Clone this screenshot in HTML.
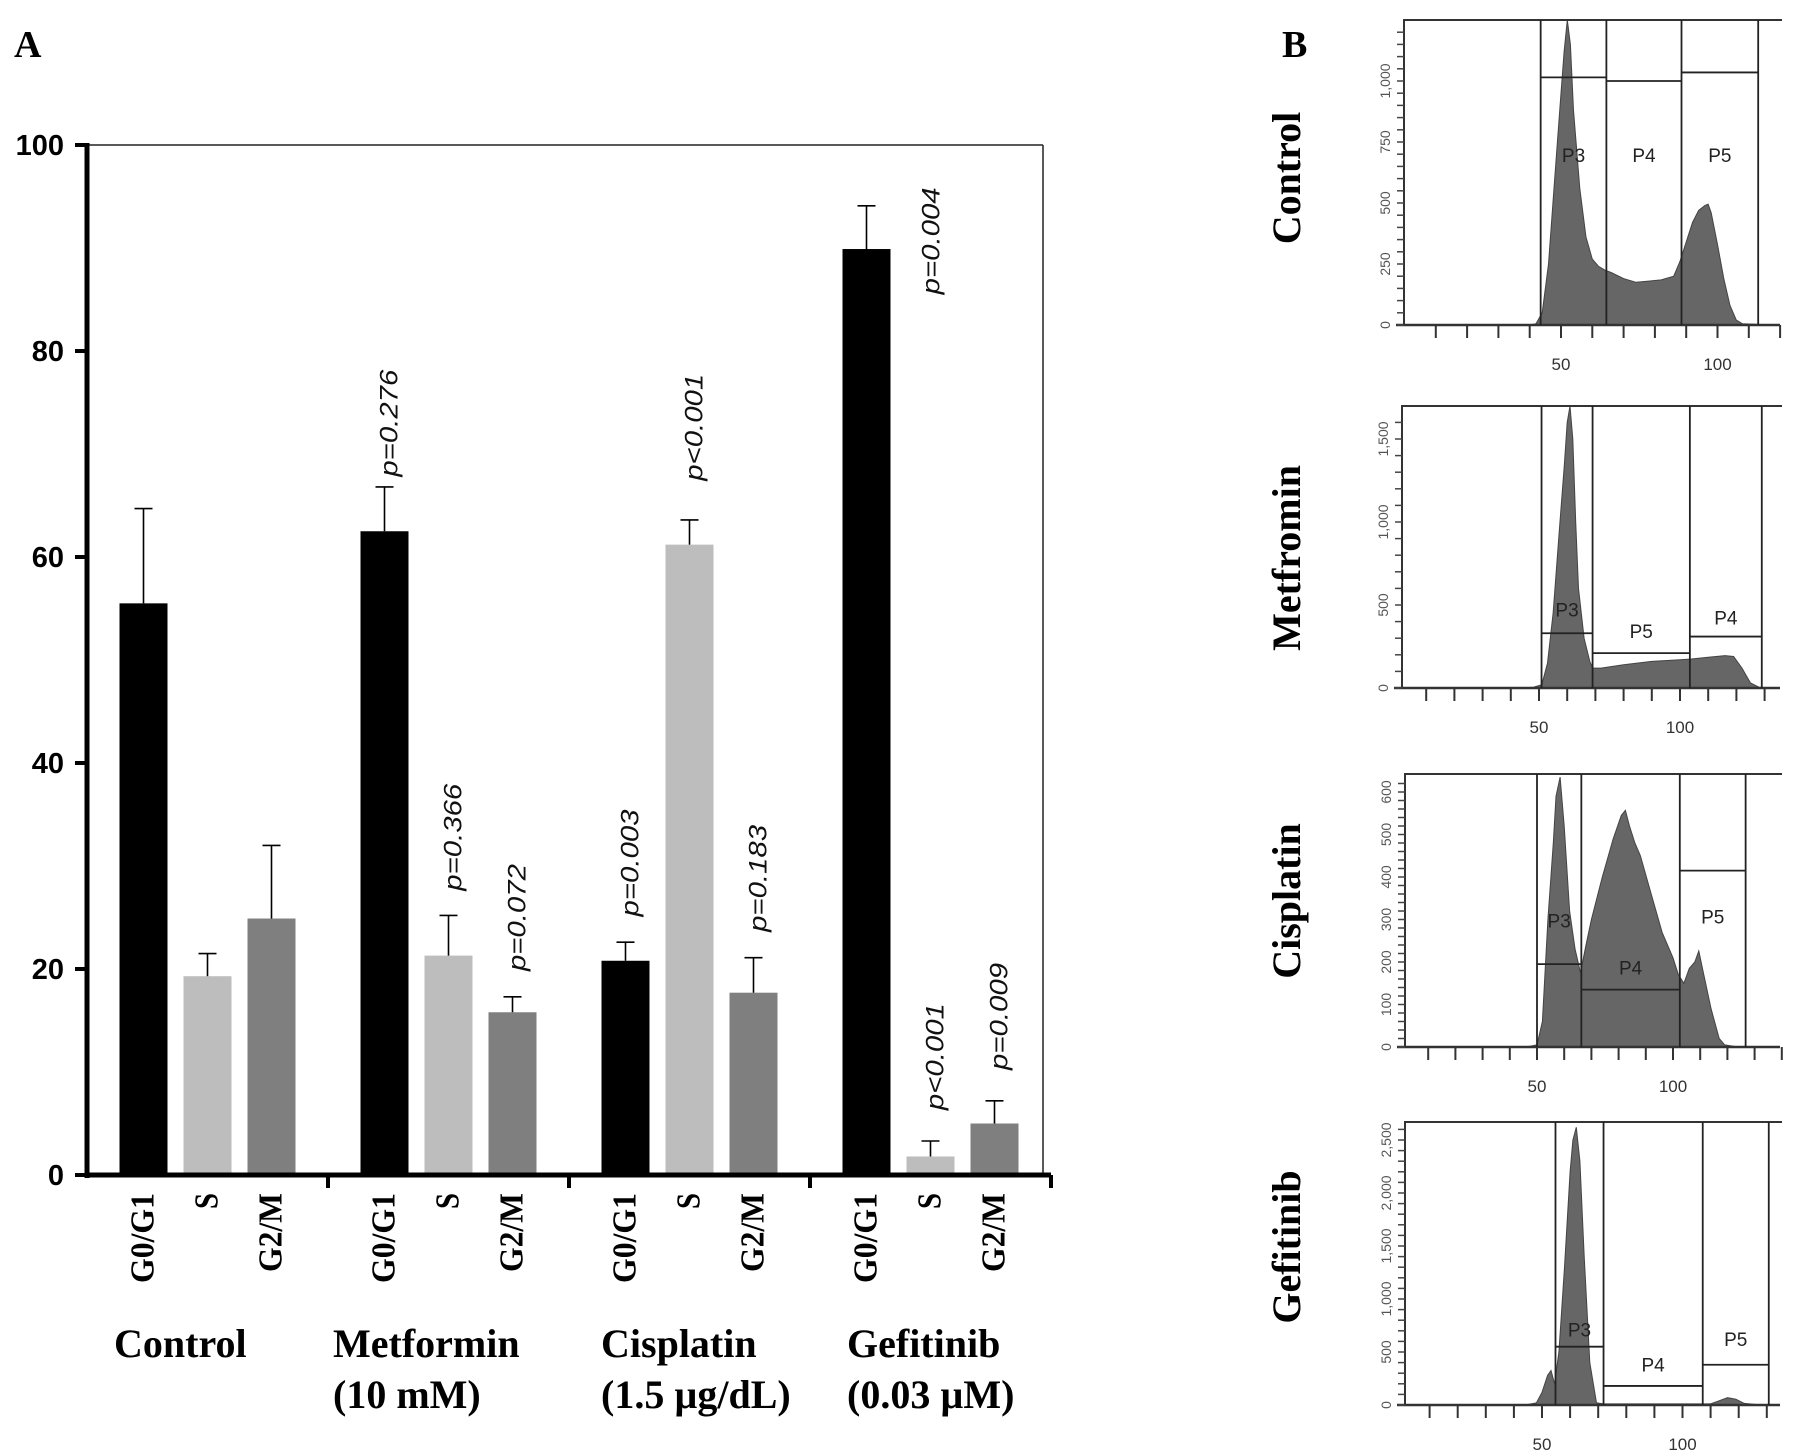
<!DOCTYPE html>
<html><head><meta charset="utf-8"><style>
html,body{margin:0;padding:0;background:#fff;}
svg{display:block;}
</style></head><body>
<svg id="fig" width="1795" height="1453" viewBox="0 0 1795 1453" xmlns="http://www.w3.org/2000/svg">
<text x="14" y="57" font-family="Liberation Serif, serif" font-weight="bold" font-size="38">A</text>
<text x="1282" y="57" font-family="Liberation Serif, serif" font-weight="bold" font-size="38">B</text>
<g id="barChart"></g>
<g id="hists"></g>
</svg>
<script>
// ===== Panel A data =====
const groups = ["Control", "Metformin", "Cisplatin", "Gefitinib"];
const groupSub = ["", "(10 mM)", "(1.5 \u00b5g/dL)", "(0.03 \u00b5M)"];
const phases = ["G0/G1", "S", "G2/M"];
const valG0 = [55.5, 62.5, 20.8, 89.9];
const valS = [19.3, 21.3, 61.2, 1.8];
const valG2M = [24.9, 15.8, 17.7, 5.0];
const errG0 = [9.2, 4.3, 1.8, 4.2];
const errS = [2.2, 3.9, 2.4, 1.5];
const errG2M = [7.1, 1.5, 3.4, 2.2];
const pText = [null, null, null, "p=0.276", "p=0.366", "p=0.072", "p=0.003", "p<0.001", "p=0.183", "p=0.004", "p<0.001", "p=0.009"];
const pBase = [0, 0, 0, 67.8, 27.6, 19.8, 25.1, 67.4, 23.6, 85.5, 6.3, 10.2];
const yTicks = [0, 20, 40, 60, 80, 100];

const NS = "http://www.w3.org/2000/svg";
function mk(tag, attrs, parent, txt) {
  const e = document.createElementNS(NS, tag);
  for (const k in attrs) e.setAttribute(k, attrs[k]);
  if (txt !== undefined) e.textContent = txt;
  parent.appendChild(e);
  return e;
}
const bc = document.getElementById("barChart");
const X0 = 87, XR = 1043, XA = 1051, Y0 = 1175, Y100 = 145;
const yS = v => Y0 - (v / 100) * (Y0 - Y100);
const GW = 241, BS = 64, BW = 48;
const barX = (g, j) => X0 + g * GW + 56.5 + j * BS;

// frame
let e;
e = mk("line", {x1: X0, y1: Y100, x2: XR, y2: Y100, stroke: "#222", "stroke-width": 1.5}, bc);
 
e = mk("line", {x1: XR, y1: Y100, x2: XR, y2: Y0, stroke: "#222", "stroke-width": 1.5}, bc);
 

const vals = [valG0, valS, valG2M], errs = [errG0, errS, errG2M];
const cols = ["#000000", "#bdbdbd", "#7f7f7f"];
for (let g = 0; g < groups.length; g++) {
  for (let j = 0; j < 3; j++) {
    const cx = barX(g, j), v = vals[j][g], er = errs[j][g];
    const r = mk("rect", {x: cx - BW / 2, y: yS(v), width: BW, height: Y0 - yS(v), fill: cols[j]}, bc);
    
    
    const l = mk("line", {x1: cx, y1: yS(v), x2: cx, y2: yS(v + er), stroke: "#000", "stroke-width": 1.6}, bc);
    
    
    const c = mk("line", {x1: cx - 9, y1: yS(v + er), x2: cx + 9, y2: yS(v + er), stroke: "#000", "stroke-width": 1.6}, bc);
    
    
    // phase label
    const ly = 1193;
    const t = mk("text", {x: 0, y: 0, transform: `translate(${cx + 10},${ly}) rotate(-90)`, "text-anchor": "end",
      "font-family": "Liberation Serif, serif", "font-weight": "bold", "font-size": 34}, bc, phases[j]);
    const lens = [90, 16, 79];
    t.setAttribute("textLength", lens[j]); t.setAttribute("lengthAdjust", "spacingAndGlyphs");
    
    
    // p label
    const k = g * 3 + j;
    if (pText[k]) {
      const px = (k === 9) ? barX(g, 1) + 1 : cx + 5;
      const pt = mk("text", {x: 0, y: 0, transform: `translate(${px + 8},${yS(pBase[k])}) rotate(-90)`,
        "font-family": "Liberation Sans, sans-serif", "font-style": "italic", "font-size": 25, fill: "#111"}, bc, pText[k]);
      pt.setAttribute("textLength", 107); pt.setAttribute("lengthAdjust", "spacingAndGlyphs");
      
      
    }
  }
  // group labels
  const gx = [114, 333, 601, 847][g];
  const gt = mk("text", {x: gx, y: 1357, "font-family": "Liberation Serif, serif", "font-weight": "bold", "font-size": 40}, bc, groups[g]);
  
  
  if (groupSub[g]) {
    const st = mk("text", {x: gx, y: 1408, "font-family": "Liberation Serif, serif", "font-weight": "bold", "font-size": 40}, bc, groupSub[g]);
    
    
  }
  const tk = mk("line", {x1: X0 + (g + 1) * GW, y1: Y0, x2: X0 + (g + 1) * GW, y2: Y0 + 13, stroke: "#000", "stroke-width": 4}, bc);
  
  
}
// axes
e = mk("line", {x1: X0, y1: Y100 - 2, x2: X0, y2: Y0 + 3, stroke: "#000", "stroke-width": 5}, bc);
 
e = mk("line", {x1: X0 - 2, y1: Y0, x2: XA, y2: Y0, stroke: "#000", "stroke-width": 5}, bc);
 
for (const t of yTicks) {
  const tl = mk("line", {x1: X0 - 12, y1: yS(t), x2: X0, y2: yS(t), stroke: "#000", "stroke-width": 4}, bc);
  
  
  const tt = mk("text", {x: 64, y: yS(t) + 10, "text-anchor": "end", "font-family": "Liberation Sans, sans-serif", "font-weight": "bold", "font-size": 29}, bc, String(t));
  
  
}

// ===== Panel B data =====
const panelNames = ["Control", "Metfromin", "Cisplatin", "Gefitinib"];
const h1X = [40, 42, 44, 46, 48, 50, 51, 52, 53, 54, 56, 58, 60, 62, 64, 66, 70, 74, 78, 82, 86, 88, 90, 92, 94, 96, 97, 98, 100, 102, 104, 106, 108, 112, 116];
const h1Y = [0, 5, 50, 250, 600, 950, 1120, 1250, 1150, 880, 560, 360, 270, 240, 225, 215, 190, 175, 180, 185, 200, 260, 340, 420, 470, 490, 495, 460, 330, 190, 80, 20, 5, 3, 0];
const h2X = [43, 48, 51, 53, 55, 57, 59, 60, 61, 62, 63, 64, 66, 68, 69, 72, 80, 90, 100, 104, 110, 116, 119, 122, 125, 128, 132];
const h2Y = [0, 5, 20, 150, 450, 900, 1350, 1600, 1700, 1500, 1000, 600, 300, 160, 120, 120, 140, 160, 170, 175, 185, 195, 190, 120, 30, 5, 0];
const h3X = [46, 50, 52, 54, 56, 57, 58.5, 60, 62, 64, 66, 68, 70, 74, 78, 81, 82.5, 84, 86, 88, 92, 96, 100, 102, 104, 106, 108, 109.5, 111, 114, 117, 119, 124];
const h3Y = [0, 5, 60, 300, 480, 590, 635, 520, 320, 230, 175, 240, 300, 400, 490, 545, 557, 520, 480, 450, 360, 270, 210, 170, 150, 185, 200, 226, 180, 90, 20, 5, 0];
const h4X = [44, 48, 50, 52, 53.2, 54.5, 56, 58, 60, 61, 62.2, 63.5, 65, 67, 69.4, 72, 90, 110, 113, 116, 119, 122, 128];
const h4Y = [0, 20, 120, 280, 325, 200, 500, 1300, 2200, 2500, 2620, 2300, 1400, 400, 20, 10, 10, 10, 40, 70, 55, 15, 0];
const histXs = [h1X, h2X, h3X, h4X];
const histYs = [h1Y, h2Y, h3Y, h4Y];
const gateX = [[43.5, 64.5, 88.5, 113], [50.9, 69, 103.5, 129], [50, 66.3, 102.5, 126.7], [54.8, 71.9, 107.2, 130.7]];
const gateH = [[1015, 1000, 1035, 1035], [330, 210, 310, 310], [195, 135, 415, 415], [550, 180, 380, 380]];
const gateNames = [["P3", "P4", "P5"], ["P3", "P5", "P4"], ["P3", "P4", "P5"], ["P3", "P4", "P5"]];
const gateLabelCount = [[700, 700, 700], [480, 350, 430], [300, 190, 310], [720, 390, 630]];
const yLabelVals = [[0, 250, 500, 750, 1000], [0, 500, 1000, 1500], [0, 100, 200, 300, 400, 500, 600], [0, 500, 1000, 1500, 2000, 2500]];
const xLabelVals = [50, 100];

// panel geometry (layout, not data)
const geo = [
  {left: 1404, top: 20, base: 325, x50: 1561, k: 3.13, ky: 0.244, minor: 50, sideY: 178},
  {left: 1402, top: 406, base: 688, x50: 1539, k: 2.82, ky: 0.166, minor: 100, sideY: 558},
  {left: 1405, top: 774, base: 1047, x50: 1537, k: 2.72, ky: 0.425, minor: 20, sideY: 901},
  {left: 1405, top: 1122, base: 1405, x50: 1542, k: 2.81, ky: 0.106, minor: 100, sideY: 1247}
];
const hg = document.getElementById("hists");
for (let p = 0; p < 4; p++) {
  const G = geo[p];
  const g = mk("g", {}, hg);
  
  
  const xs = u => G.x50 + (u - 50) * G.k;
  const ys = c => Math.max(G.top, G.base - c * G.ky);
  const side = mk("text", {x: 0, y: 0, transform: `translate(1300,${G.sideY}) rotate(-90)`, "text-anchor": "middle",
    "font-family": "Liberation Serif, serif", "font-weight": "bold", "font-size": 40}, g, panelNames[p]);
  
  
  // histogram area
  const hx = histXs[p], hy = histYs[p];
  let d = `M${xs(hx[0])},${G.base}`;
  for (let i = 0; i < hx.length; i++) d += ` L${xs(hx[i]).toFixed(1)},${ys(hy[i]).toFixed(1)}`;
  d += ` L${xs(hx[hx.length - 1])},${G.base} Z`;
  const hp = mk("path", {d: d, fill: "#666", stroke: "#444", "stroke-width": 1}, g);
  
  
  // box
  const bx = mk("path", {d: `M${G.left},${G.base} L${G.left},${G.top} L1782,${G.top}`, fill: "none", stroke: "#333", "stroke-width": 2}, g);
  
  
  const ax = mk("line", {x1: G.left - 8, y1: G.base, x2: 1780, y2: G.base, stroke: "#333", "stroke-width": 2.5}, g);
  
  
  // gates
  const gx = gateX[p], gh = gateH[p];
  for (let i = 0; i < 4; i++) {
    const gl = mk("line", {x1: xs(gx[i]), y1: G.top, x2: xs(gx[i]), y2: G.base, stroke: "#222", "stroke-width": 1.8}, g);
    
    
  }
  for (let i = 0; i < 3; i++) {
    const hl = mk("line", {x1: xs(gx[i]), y1: ys(gh[i]), x2: xs(gx[i + 1]), y2: ys(gh[i]), stroke: "#222", "stroke-width": 1.8}, g);
    
    
    const gt = mk("text", {x: (xs(gx[i]) + xs(gx[i + 1])) / 2, y: ys(gateLabelCount[p][i]) + 8, "text-anchor": "middle",
      "font-family": "Liberation Sans, sans-serif", "font-size": 19, fill: "#222"}, g, gateNames[p][i]);
    
    
  }
  // x ticks
  for (let u = 10; xs(u) < 1782; u += 10) {
    const tl = mk("line", {x1: xs(u), y1: G.base, x2: xs(u), y2: G.base + 13, stroke: "#333", "stroke-width": 2}, g);
    
    
  }
  for (const v of xLabelVals) {
    const tt = mk("text", {x: xs(v), y: G.base + 45, "text-anchor": "middle", "font-family": "Liberation Sans, sans-serif", "font-size": 17, fill: "#333"}, g, String(v));
    
    
  }
  // y minor ticks
  for (let c = 0; ys(c) > G.top + 2; c += G.minor) {
    const tl = mk("line", {x1: G.left - 7, y1: ys(c), x2: G.left, y2: ys(c), stroke: "#444", "stroke-width": 1.5}, g);
    
    
  }
  for (const v of yLabelVals[p]) {
    const tt = mk("text", {x: 0, y: 0, transform: `translate(${G.left - 14},${ys(v)}) rotate(-90)`, "text-anchor": "middle",
      "font-family": "Liberation Sans, sans-serif", "font-size": 14, fill: "#555"}, g, v >= 1000 ? (v / 1000).toFixed(v % 1000 ? 1 : 0).replace('.', ',') + (v % 1000 ? '00' : ',000') : String(v));
    
    
  }
}
</script>
</body></html>
